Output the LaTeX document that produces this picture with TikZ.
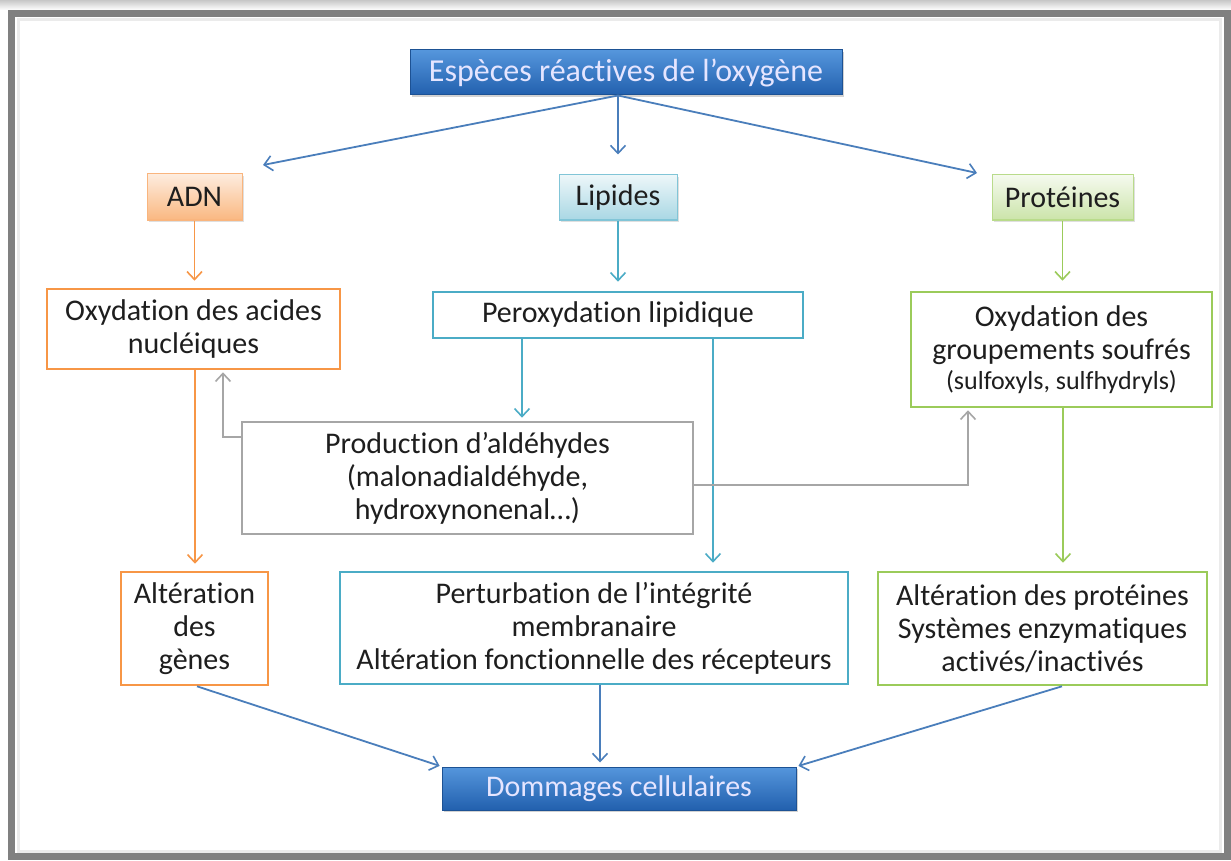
\documentclass[tikz,border=0pt]{standalone}
\usepackage{fontspec}
\setmainfont{Carlito}[Ligatures=NoCommon]
\usetikzlibrary{arrows.meta,shadows}

\definecolor{framegray}{HTML}{808080}
\definecolor{arrowblue}{HTML}{4A7EBB}
\definecolor{orangeline}{HTML}{F79646}
\definecolor{tealline}{HTML}{4BACC6}
\definecolor{greenline}{HTML}{9BCB5A}
\definecolor{grayline}{HTML}{A6A6A6}
\definecolor{textdark}{HTML}{1E1E1E}
\definecolor{bluetop}{HTML}{5596DC}
\definecolor{bluebottom}{HTML}{2260AE}

\tikzset{
  basebox/.style={rectangle, align=center, inner sep=2pt, text=textdark,
    font=\fontsize{30}{33}\selectfont},
  headblue/.style={basebox, draw=bluebottom!85!black, line width=1pt,
    top color=bluetop, bottom color=bluebottom,
    text=white!90!blue,
    drop shadow={shadow xshift=1.5pt, shadow yshift=-2pt, opacity=.35}},
  adnbox/.style={basebox, draw=orangeline!70, line width=1pt,
    top color=orangeline!18, bottom color=orangeline!68,
    drop shadow={shadow xshift=1.5pt, shadow yshift=-2pt, opacity=.25}},
  lipbox/.style={basebox, draw=tealline!70, line width=1pt,
    top color=tealline!10, bottom color=tealline!48,
    drop shadow={shadow xshift=1.5pt, shadow yshift=-2pt, opacity=.25}},
  probox/.style={basebox, draw=greenline!70, line width=1pt,
    top color=greenline!10, bottom color=greenline!52,
    drop shadow={shadow xshift=1.5pt, shadow yshift=-2pt, opacity=.25}},
  orangebox/.style={basebox, draw=orangeline, line width=2.6pt, fill=white},
  tealbox/.style={basebox, draw=tealline, line width=2.6pt, fill=white},
  greenbox/.style={basebox, draw=greenline, line width=2.6pt, fill=white},
  graybox/.style={basebox, draw=grayline, line width=2.6pt, fill=white},
  link/.style={line width=1.8pt, -{Straight Barb[length=8pt,width=15pt,line width=1.6pt]}},
  bluelink/.style={link, draw=arrowblue},
  orangelink/.style={link, draw=orangeline},
  teallink/.style={link, draw=tealline},
  greenlink/.style={link, draw=greenline},
  graylink/.style={link, draw=grayline, line width=2.2pt},
}

\begin{document}
\begin{tikzpicture}[x=1pt, y=-1pt]
  % page and frame
  \useasboundingbox (0,0) rectangle (1231,861);
  \fill[white] (0,0) rectangle (1231,861);
  \shade[top color=black!22, bottom color=white] (0,0) rectangle (1231,10);
  \draw[black!8, line width=3pt] (18,20) rectangle (1220,851);
  \draw[framegray, line width=7pt] (11.5,13.5) rectangle (1227,856.5);

  % top level
  \node[headblue, font=\fontsize{32}{35}\selectfont,
        minimum width=432pt, minimum height=45pt] (ros) at (626,72.5)
    {Espèces réactives de l’oxygène};

  \node[adnbox, minimum width=95pt, minimum height=46pt] (adn) at (194.5,197) {ADN};
  \node[lipbox, minimum width=118pt, minimum height=45pt] (lip) at (618,197.5) {Lipides};
  \node[probox, minimum width=141pt, minimum height=45pt] (pro) at (1062.5,197.5) {Protéines};

  % second level
  \node[orangebox, minimum width=293pt, minimum height=80pt] (oxa) at (193.5,329)
    {Oxydation des acides\\nucléiques};
  \node[tealbox, minimum width=370pt, minimum height=46pt] (per) at (618,315)
    {Peroxydation lipidique};
  \node[greenbox, minimum width=301pt, minimum height=115pt] (oxs) at (1061.5,349.5)
    {Oxydation des\\groupements soufrés\\[-3pt]{\fontsize{26}{28}\selectfont (sulfoxyls, sulfhydryls)}};

  \node[graybox, minimum width=451pt, minimum height=112pt] (ald) at (467.5,478)
    {Production d’aldéhydes\\(malonadialdéhyde,\\hydroxynonenal…)};

  % third level
  \node[orangebox, minimum width=147pt, minimum height=113pt] (gen) at (194.5,628.5)
    {Altération\\des\\gènes};
  \node[tealbox, minimum width=508pt, minimum height=112pt] (pert) at (594,628)
    {Perturbation de l’intégrité\\membranaire\\Altération fonctionnelle des récepteurs};
  \node[greenbox, minimum width=329pt, minimum height=113pt] (alp) at (1042.5,628.5)
    {Altération des protéines\\Systèmes enzymatiques\\activés/inactivés};

  \node[headblue, minimum width=354pt, minimum height=43pt] (dom) at (619,788.5)
    {Dommages cellulaires};

  % free ends of the fan-out arrows
  \coordinate (fork) at (ros.south -| lip.north);
  \coordinate (toadn) at (263,165);
  \coordinate (topro) at (977,173);

  \draw[bluelink] (fork) -- (toadn);
  \draw[bluelink, shorten >=20pt] (fork) -- (lip.north);
  \draw[bluelink] (fork) -- (topro);

  % down from the three targets
  \draw[orangelink, shorten >=7pt] (adn.south) -- (adn.south |- oxa.north);
  \draw[teallink, shorten >=9pt] (lip.south) -- (per.north);
  \draw[greenlink, shorten >=10pt] (pro.south) -- (pro.south |- oxs.north);

  \draw[orangelink, shorten >=7pt] (oxa.south -| 195,0) -- (gen.north -| 195,0);
  \draw[teallink, shorten >=3pt] (per.south -| 522,0) -- (ald.north -| 522,0);
  \draw[teallink, shorten >=8pt] (per.south -| 713,0) -- (pert.north -| 713,0);
  \draw[greenlink, shorten >=8pt] (oxs.south -| 1063,0) -- (alp.north -| 1063,0);

  % aldehydes feeding back
  \draw[graylink, shorten >=2pt] (ald.west |- 0,437) -| (oxa.south -| 223,0);
  \draw[graylink, shorten >=2pt] (ald.east |- 0,485) -| (oxs.south -| 968,0);

  % into cellular damage
  \draw[bluelink, shorten >=2pt] (gen.south -| 197,0) -- (dom.north west);
  \draw[bluelink, shorten >=4pt] (pert.south -| 600,0) -- (dom.north -| 600,0);
  \draw[bluelink, shorten >=2pt] (alp.south -| 1062,0) -- (dom.north east);
\end{tikzpicture}
\end{document}
